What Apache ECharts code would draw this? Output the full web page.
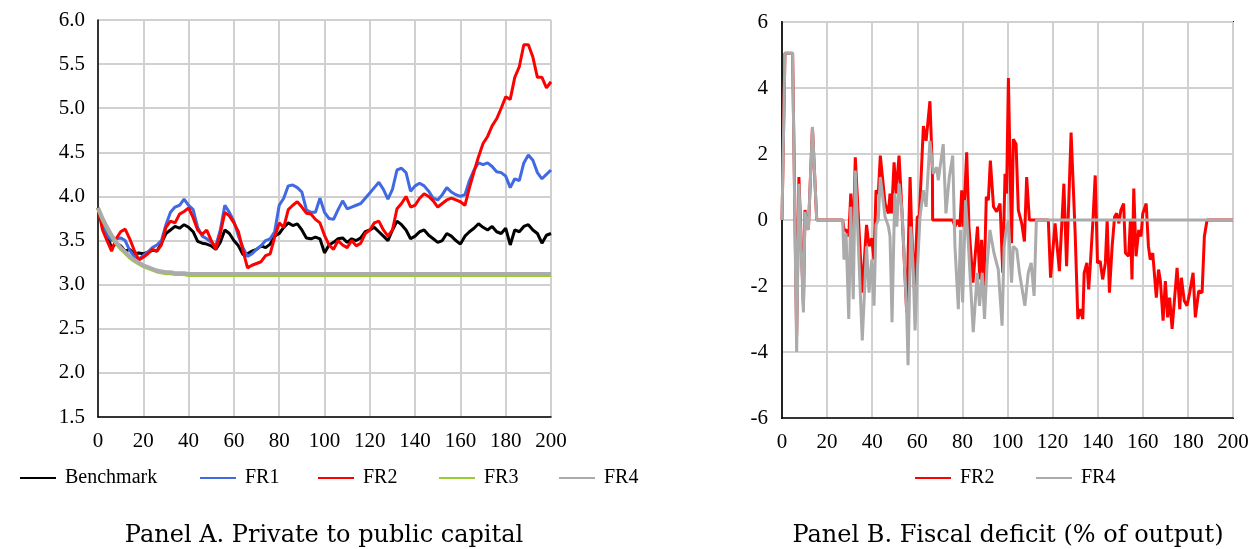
<!DOCTYPE html>
<html>
<head>
<meta charset="utf-8">
<script src="https://cdn.jsdelivr.net/npm/echarts@6/dist/echarts.min.js"></script>
<style>
html,body{margin:0;padding:0;background:#fff;}
#chart{width:1255px;height:549px;}
</style>
</head>
<body>
<div id="chart"></div>
<script>
// ---------- Panel A data (private to public capital), period step 2 ----------
const periodsA = [0,2,4,6,8,10,12,14,16,18,20,22,24,26,28,30,32,34,36,38,40,42,44,46,48,50,52,54,56,58,60,62,64,66,68,70,72,74,76,78,80,82,84,86,88,90,92,94,96,98,100,102,104,106,108,110,112,114,116,118,120,122,124,126,128,130,132,134,136,138,140,142,144,146,148,150,152,154,156,158,160,162,164,166,168,170,172,174,176,178,180,182,184,186,188,190,192,194,196,198,200];
const benchmark = [3.87,3.70,3.55,3.42,3.47,3.44,3.38,3.40,3.35,3.36,3.35,3.37,3.39,3.38,3.47,3.58,3.62,3.66,3.64,3.68,3.65,3.60,3.49,3.47,3.46,3.44,3.40,3.48,3.62,3.58,3.50,3.44,3.34,3.35,3.38,3.40,3.44,3.42,3.46,3.55,3.58,3.65,3.70,3.67,3.69,3.62,3.53,3.52,3.54,3.52,3.36,3.45,3.48,3.52,3.53,3.48,3.52,3.50,3.53,3.60,3.62,3.65,3.60,3.55,3.50,3.62,3.72,3.68,3.62,3.52,3.55,3.60,3.62,3.56,3.52,3.48,3.50,3.58,3.55,3.50,3.46,3.55,3.60,3.64,3.69,3.65,3.62,3.66,3.60,3.58,3.64,3.45,3.62,3.60,3.66,3.68,3.62,3.58,3.47,3.56,3.58];
const fr1 = [3.87,3.68,3.56,3.50,3.52,3.53,3.50,3.39,3.32,3.29,3.33,3.37,3.42,3.45,3.50,3.68,3.82,3.88,3.90,3.97,3.90,3.85,3.65,3.55,3.52,3.48,3.44,3.62,3.90,3.82,3.72,3.55,3.42,3.32,3.35,3.40,3.44,3.50,3.52,3.60,3.90,3.98,4.12,4.13,4.10,4.05,3.85,3.82,3.82,3.98,3.82,3.75,3.74,3.85,3.95,3.86,3.88,3.90,3.92,3.98,4.04,4.10,4.16,4.08,3.97,4.08,4.30,4.32,4.27,4.06,4.12,4.15,4.12,4.06,3.98,3.96,4.02,4.10,4.05,4.02,4.00,4.02,4.18,4.30,4.38,4.36,4.38,4.34,4.28,4.27,4.23,4.10,4.20,4.18,4.38,4.47,4.41,4.27,4.20,4.25,4.30];
const fr2 = [3.87,3.62,3.50,3.38,3.52,3.60,3.63,3.52,3.39,3.28,3.31,3.35,3.40,3.38,3.45,3.65,3.72,3.70,3.80,3.83,3.87,3.76,3.62,3.57,3.62,3.50,3.40,3.58,3.82,3.78,3.70,3.60,3.39,3.19,3.22,3.24,3.26,3.33,3.35,3.54,3.70,3.65,3.85,3.90,3.94,3.88,3.81,3.80,3.74,3.70,3.56,3.45,3.40,3.50,3.45,3.42,3.50,3.44,3.47,3.58,3.62,3.70,3.72,3.62,3.55,3.62,3.86,3.92,4.00,3.88,3.90,3.98,4.03,4.00,3.95,3.88,3.92,3.96,3.98,3.96,3.94,3.90,4.10,4.28,4.45,4.60,4.68,4.80,4.88,5.00,5.13,5.10,5.35,5.47,5.72,5.72,5.58,5.35,5.35,5.23,5.30];
const fr3 = [3.87,3.74,3.64,3.55,3.47,3.41,3.36,3.31,3.27,3.24,3.21,3.19,3.17,3.15,3.14,3.13,3.13,3.12,3.12,3.12,3.11,3.11,3.11,3.11,3.11,3.11,3.11,3.11,3.11,3.11,3.11,3.11,3.11,3.11,3.11,3.11,3.11,3.11,3.11,3.11,3.11,3.11,3.11,3.11,3.11,3.11,3.11,3.11,3.11,3.11,3.11,3.11,3.11,3.11,3.11,3.11,3.11,3.11,3.11,3.11,3.11,3.11,3.11,3.11,3.11,3.11,3.11,3.11,3.11,3.11,3.11,3.11,3.11,3.11,3.11,3.11,3.11,3.11,3.11,3.11,3.11,3.11,3.11,3.11,3.11,3.11,3.11,3.11,3.11,3.11,3.11,3.11,3.11,3.11,3.11,3.11,3.11,3.11,3.11,3.11,3.11];
const fr4 = [3.87,3.75,3.65,3.56,3.48,3.42,3.37,3.32,3.28,3.25,3.22,3.20,3.18,3.16,3.15,3.14,3.14,3.13,3.13,3.13,3.12,3.12,3.12,3.12,3.12,3.12,3.12,3.12,3.12,3.12,3.12,3.12,3.12,3.12,3.12,3.12,3.12,3.12,3.12,3.12,3.12,3.12,3.12,3.12,3.12,3.12,3.12,3.12,3.12,3.12,3.12,3.12,3.12,3.12,3.12,3.12,3.12,3.12,3.12,3.12,3.12,3.12,3.12,3.12,3.12,3.12,3.12,3.12,3.12,3.12,3.12,3.12,3.12,3.12,3.12,3.12,3.12,3.12,3.12,3.12,3.12,3.12,3.12,3.12,3.12,3.12,3.12,3.12,3.12,3.12,3.12,3.12,3.12,3.12,3.12,3.12,3.12,3.12,3.12,3.12,3.12];

// ---------- Panel B data (fiscal deficit, % of output) ----------
const deficitPeriodsFR2 = [0,1.3,4.7,6.5,7.5,9.5,10.2,11.7,13.5,15.4,26.9,27.5,28.4,29.6,30.5,31.6,32.5,35.6,37.5,38.6,39.8,40.8,41.7,42.7,43.6,45.7,47.2,47.9,48.6,49.7,50.6,51.9,53.1,55.3,56.8,57.5,58.7,60,60.9,62.7,63.9,65.6,66.7,66.8,75.7,76.7,77.8,78.9,79.7,80.4,81.9,82.9,84.7,86.7,87.7,88.5,89.6,90.6,91.5,92.4,93.8,95.2,96.7,97.9,98.9,99.6,100.4,101.8,102.6,103.8,104.8,106.3,107.5,108.5,109.7,118.1,119.1,121.1,123,125,126.2,128.2,130,131.2,132.2,133.4,134,135.2,136,136.7,137.9,138.9,139.9,141.1,142.2,143.4,144.2,145.2,146.4,147.5,148.4,149.4,150.3,151.5,152.3,153.7,154.5,155.2,156,157,158.2,159.2,160,161.5,162.5,163.3,164.4,166,167,167.8,169,170,171,171.9,173,174,175.2,176.4,177.1,178.4,179.6,180.8,182.3,183.3,184.8,186.3,187.3,188.5,200];
const deficitFR2 = [0,5.05,5.05,-3.5,1.3,-2.6,0.3,-0.3,2.8,0,0,-0.3,-0.3,-0.5,0.8,-0.6,1.9,-2.2,-0.15,-0.8,-0.55,-1.2,0.9,0.8,1.95,0.5,0.2,0.8,0.2,1.75,0.8,1.95,0.4,-2.8,1.3,-0.3,-2.1,0.1,0.1,2.85,2.4,3.6,1.5,0,0,-0.2,0,-0.2,0.9,-0.2,2.05,-0.2,-1.9,-0.2,-1.8,-0.6,-2.0,0.7,0.6,1.8,0.4,0.25,0.5,-1.6,1.4,0.8,4.3,-0.7,2.45,2.3,0.3,-0.1,-0.65,1.3,0,0,-1.75,-0.1,-1.55,1.1,-1.4,2.65,-0.4,-3.0,-2.7,-3.0,-1.6,-1.3,-2.1,-1.4,0,1.35,-1.3,-1.25,-1.8,-1.3,0,-2.2,-0.8,0.1,0.2,-0.1,0.3,0.5,-1.0,-1.1,0,-1.8,0.95,-1.1,-0.3,-0.5,0.2,0.5,-0.8,-1.2,-1.0,-2.35,-1.5,-1.85,-3.05,-1.85,-2.95,-2.35,-3.3,-2.45,-1.45,-2.7,-1.75,-2.45,-2.6,-2.2,-1.6,-2.95,-2.15,-2.2,-0.5,0,0];
const deficitPeriodsFR4 = [0,1.3,4.7,6.5,7.5,9.5,10.2,11.7,13.5,15.4,26.9,27.5,28.4,29.6,30.5,31.6,32.5,35.6,37.5,38.6,39.8,40.8,41.7,42.7,43.6,45.7,47.2,47.9,48.8,50,50.9,51.9,53.3,55.3,55.9,57.1,58.2,59,60,61.2,62.7,63.9,65.6,67.1,68.6,69.3,71.5,72.7,74.2,75.7,76.7,78.2,79.2,80.1,81.4,82.7,84.8,86.6,87.6,88.8,89.8,90.9,92.2,94,95.9,97.6,98.5,99.4,100.4,101.8,102.6,104.1,105.3,107.7,109.2,110.5,111.8,112.8,200];
const deficitFR4 = [0,5.05,5.05,-4.0,1.1,-2.8,0.25,-0.3,2.82,0,0,-1.2,-0.4,-3.0,0.4,-2.4,1.5,-3.65,-0.8,-2.2,-1.2,-2.6,-0.15,0,1.3,0.1,-0.2,-0.5,-3.1,0.8,-0.2,1.1,0.2,-2.8,-4.4,-0.2,-1.5,-3.35,-1.6,0.1,0.9,0.4,2.4,1.4,1.6,1.2,2.3,0.2,1.3,1.95,-0.8,-2.7,-0.3,-2.5,0.6,-0.8,-3.4,-1.6,-2.6,-1.6,-3.0,-1.4,-0.3,-1.0,-1.5,-3.2,-0.8,-0.3,0,-1.9,-0.8,-0.9,-1.6,-2.6,-1.6,-1.3,-2.3,0,0];

const xTicks = [0,20,40,60,80,100,120,140,160,180,200];
const yTicksA = [1.5,2.0,2.5,3.0,3.5,4.0,4.5,5.0,5.5,6.0];
const yTicksB = [-6,-4,-2,0,2,4,6];
const captions = ['Panel A. Private to public capital', 'Panel B. Fiscal deficit (% of output)'];

const pairs = (xs, ys) => xs.map((x, i) => [x, ys[i]]);

const SERIF = '"Liberation Serif", "Times New Roman", serif';
const GRIDC = '#d0d0d0';
const COLORS = {Benchmark:'#000000', FR1:'#4169e1', FR2:'#ff0000', FR3:'#9acd32', FR4:'#ababab'};

const chart = echarts.init(document.getElementById('chart'), null, {renderer:'canvas'});

function xAxisCfg(gridIndex) {
  return {
    type:'value', gridIndex, min:xTicks[0], max:xTicks[xTicks.length-1], interval:20,
    axisLine:{show:true, onZero:false, lineStyle:{color:'#000', width:1.5}},
    axisTick:{show:false},
    axisLabel:{color:'#000', fontFamily:SERIF, fontSize:21, margin:14},
    splitLine:{show:true, lineStyle:{color:GRIDC, width:2}}
  };
}

function line(name, data, xi, yi, width, z) {
  return {
    name, type:'line', data, xAxisIndex:xi, yAxisIndex:yi, symbol:'none',
    showSymbol:false, smooth:false, animation:false, z:z,
    lineStyle:{color:COLORS[name], width:width}, itemStyle:{color:COLORS[name]},
    emphasis:{disabled:true}
  };
}

function leg(name, left) {
  return {
    data:[{name:name, icon:'rect', itemStyle:{color:COLORS[name]}}],
    left:left, top:463, itemWidth:36, itemHeight:2, itemGap:0,
    selectedMode:false,
    textStyle:{color:'#000', fontFamily:SERIF, fontSize:20, padding:[0,0,0,4]}
  };
}

const option = {
  animation:false,
  backgroundColor:'#fff',
  grid:[
    {left:98, top:20, width:453, height:397, show:true, borderColor:'#000', borderWidth:1, backgroundColor:'transparent'},
    {left:782, top:22, width:451, height:396, show:true, borderColor:'#222', borderWidth:2, backgroundColor:'transparent'}
  ],
  xAxis:[ xAxisCfg(0), xAxisCfg(1) ],
  yAxis:[
    {type:'value', gridIndex:0, min:yTicksA[0], max:yTicksA[yTicksA.length-1], interval:0.5,
     axisLine:{show:true, onZero:false, lineStyle:{color:'#000', width:1.5}}, axisTick:{show:false},
     axisLabel:{color:'#000', fontFamily:SERIF, fontSize:21, margin:13, formatter:v=>v.toFixed(1)},
     splitLine:{show:true, lineStyle:{color:GRIDC, width:2}}},
    {type:'value', gridIndex:1, min:yTicksB[0], max:yTicksB[yTicksB.length-1], interval:2,
     axisLine:{show:true, onZero:false, lineStyle:{color:'#222', width:2}}, axisTick:{show:false},
     axisLabel:{color:'#000', fontFamily:SERIF, fontSize:21, margin:14},
     splitLine:{show:true, lineStyle:{color:GRIDC, width:2}}}
  ],
  legend:[
    leg('Benchmark', 15), leg('FR1', 195), leg('FR2', 313), leg('FR3', 434), leg('FR4', 554),
    leg('FR2', 910), leg('FR4', 1031)
  ],
  series:[
    line('Benchmark', pairs(periodsA, benchmark), 0, 0, 3, 2),
    line('FR1', pairs(periodsA, fr1), 0, 0, 3, 3),
    line('FR2', pairs(periodsA, fr2), 0, 0, 3, 4),
    line('FR3', pairs(periodsA, fr3), 0, 0, 4, 5),
    line('FR4', pairs(periodsA, fr4), 0, 0, 4, 6),
    line('FR2', pairs(deficitPeriodsFR2, deficitFR2), 1, 1, 3, 3),
    line('FR4', pairs(deficitPeriodsFR4, deficitFR4), 1, 1, 3, 4)
  ],
  graphic:[
    {type:'text', x:324, y:536, silent:true,
     style:{text:captions[0], fill:'#000', font:'24px "DejaVu Serif", serif', align:'center', verticalAlign:'middle', textAlign:'center', textVerticalAlign:'middle'}},
    {type:'text', x:1008, y:536, silent:true,
     style:{text:captions[1], fill:'#000', font:'24px "DejaVu Serif", serif', align:'center', verticalAlign:'middle', textAlign:'center', textVerticalAlign:'middle'}}
  ]
};
chart.setOption(option);
</script>
</body>
</html>
